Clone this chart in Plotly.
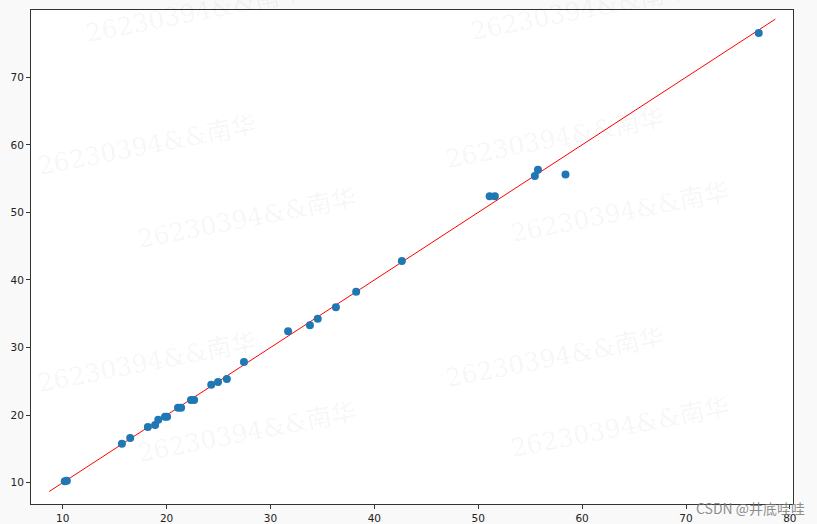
import plotly.graph_objects as go

# Data (true vs predicted)
x_vals = [10.2, 10.4, 15.7, 16.5, 18.2, 18.9, 19.2, 19.85, 20.05, 21.1, 21.4,
          22.35, 22.65, 24.3, 24.95, 25.8, 27.45, 31.7, 33.8, 34.55, 36.3,
          38.25, 42.65, 51.1, 51.6, 55.45, 55.75, 58.4, 77.0]
y_vals = [10.2, 10.3, 15.75, 16.6, 18.25, 18.55, 19.3, 19.75, 19.75, 21.1, 21.1,
          22.25, 22.25, 24.5, 24.9, 25.35, 27.85, 32.4, 33.3, 34.25, 35.95,
          38.25, 42.8, 52.4, 52.4, 55.4, 56.3, 55.6, 76.55]
line_vals = [8.7, 78.6]

x_ticks = [10, 20, 30, 40, 50, 60, 70, 80]
y_ticks = [10, 20, 30, 40, 50, 60, 70]

watermark_text = "26230394&&南华"
watermark_pos = [(195, 12), (580, 10), (147, 145), (555, 138), (247, 218), (620, 212),
                 (147, 362), (555, 357), (247, 432), (620, 427)]

W, H = 817, 524
L, R, T, B = 31, 793, 10, 504

fig = go.Figure()
fig.add_trace(go.Scatter(x=line_vals, y=line_vals, mode="lines",
                         line=dict(color="red", width=1), showlegend=False))
fig.add_trace(go.Scatter(x=x_vals, y=y_vals, mode="markers",
                         marker=dict(color="#1f77b4", size=8, line=dict(width=0)),
                         showlegend=False))

for (px, py) in watermark_pos:
    fig.add_annotation(text=watermark_text, xref="paper", yref="paper",
                       x=(px - L) / (R - L), y=1 - (py - T) / (B - T),
                       xanchor="center", yanchor="middle",
                       showarrow=False, textangle=-11,
                       font=dict(family="DejaVu Serif, Liberation Serif, Noto Sans CJK SC",
                                 size=25, color="rgba(0,0,0,0.05)"))

fig.add_annotation(text="CSDN @井底哇哇", xref="paper", yref="paper",
                   x=(807 - L) / (R - L), y=1 - (508 - T) / (B - T),
                   xanchor="right", yanchor="middle", showarrow=False,
                   font=dict(family="Noto Sans CJK SC, DejaVu Sans", size=14,
                             color="rgba(120,120,120,0.85)"))

axis_common = dict(showgrid=False, zeroline=False, showline=True, linecolor="#333",
                   linewidth=1, mirror=True, ticks="outside", ticklen=4,
                   tickcolor="#333", tickfont=dict(family="DejaVu Sans", size=10.5, color="#222"))

fig.update_xaxes(range=[6.95, 80.3], tickvals=x_ticks, **axis_common)
fig.update_yaxes(range=[6.85, 79.95], tickvals=y_ticks, **axis_common)

fig.update_layout(width=W, height=H,
                  margin=dict(l=L, r=W - R, t=T, b=H - B, autoexpand=False),
                  plot_bgcolor="white", paper_bgcolor="#f9f9f9")

fig.write_html("out.html", config={"displayModeBar": False},
               post_script="document.body.style.margin='0';document.body.style.overflow='hidden';")
